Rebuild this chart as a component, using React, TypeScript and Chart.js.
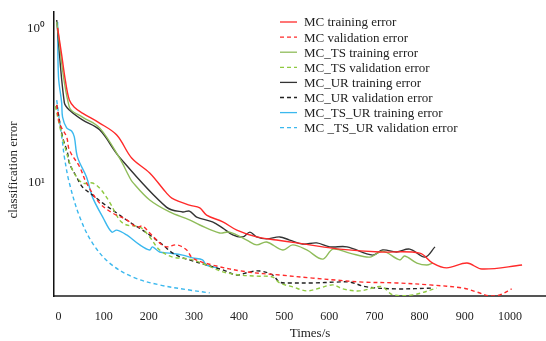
import React, { useEffect, useRef } from "react";
import { Chart, registerables } from "chart.js";

Chart.register(...registerables);

// x ticks (Times/s)
const X_TICKS = [0, 100, 200, 300, 400, 500, 600, 700, 800, 900, 1000];
// y ticks (classification error, relative axis position) and labels
const Y_TICK_VALUES = [0.4, 0.94];
const Y_TICK_LABELS = ["10¹", "10⁰"];

const X_TITLE = "Times/s";
const Y_TITLE = "classification error";

const SERIES_NAMES = [
  "MC training error",
  "MC validation error",
  "MC_TS training error",
  "MC_TS validation error",
  "MC_UR training error",
  "MC_UR validation error",
  "MC_TS_UR training error",
  "MC _TS_UR validation error",
];

// MC training error
const mcTrainX = [-2, 7, 15, 24, 35, 53, 91, 129, 162, 202, 239, 251, 290, 313, 328, 364, 395, 439, 483, 528, 585, 623, 712, 800, 829, 860, 905, 938, 1027];
const mcTrainY = [0.944, 0.849, 0.761, 0.69, 0.665, 0.644, 0.609, 0.567, 0.486, 0.433, 0.363, 0.345, 0.32, 0.31, 0.285, 0.261, 0.232, 0.208, 0.197, 0.187, 0.173, 0.165, 0.155, 0.151, 0.116, 0.099, 0.116, 0.095, 0.109];

// MC validation error
const mcValX = [-4, 2, 18, 24, 47, 62, 91, 120, 151, 173, 186, 202, 224, 239, 262, 284, 297, 341, 417, 490, 563, 616, 674, 749, 823, 896, 927, 956, 978, 1004];
const mcValY = [0.673, 0.609, 0.56, 0.514, 0.454, 0.398, 0.327, 0.292, 0.268, 0.243, 0.246, 0.222, 0.187, 0.173, 0.18, 0.162, 0.134, 0.109, 0.085, 0.074, 0.063, 0.056, 0.049, 0.046, 0.039, 0.028, 0.014, 0.0, 0.004, 0.025];

// MC_TS training error
const tsTrainX = [-4, 24, 53, 91, 135, 157, 164, 202, 246, 290, 313, 357, 379, 417, 439, 461, 497, 519, 550, 585, 608, 645, 690, 718, 756, 767, 794, 816, 829];
const tsTrainY = [0.965, 0.665, 0.63, 0.592, 0.486, 0.419, 0.401, 0.338, 0.296, 0.268, 0.25, 0.222, 0.225, 0.197, 0.18, 0.19, 0.162, 0.18, 0.162, 0.13, 0.165, 0.151, 0.137, 0.158, 0.127, 0.141, 0.116, 0.109, 0.116];

// MC_TS validation error
const tsValX = [-7, 2, 13, 31, 53, 75, 91, 113, 135, 151, 180, 202, 224, 253, 290, 328, 364, 401, 439, 474, 490, 519, 550, 579, 608, 630, 667, 705, 718, 741, 785, 838];
const tsValY = [0.669, 0.602, 0.532, 0.444, 0.398, 0.398, 0.38, 0.331, 0.268, 0.25, 0.243, 0.208, 0.162, 0.137, 0.13, 0.109, 0.085, 0.074, 0.07, 0.067, 0.046, 0.032, 0.018, 0.028, 0.039, 0.025, 0.018, 0.032, 0.032, 0.004, 0.004, 0.028];

// MC_UR training error
const urTrainX = [-4, 13, 24, 53, 91, 135, 239, 275, 290, 306, 341, 364, 386, 408, 424, 439, 461, 490, 512, 541, 572, 601, 639, 696, 718, 749, 778, 812, 834];
const urTrainY = [0.972, 0.68, 0.655, 0.62, 0.585, 0.489, 0.313, 0.296, 0.299, 0.278, 0.261, 0.239, 0.215, 0.208, 0.225, 0.208, 0.201, 0.208, 0.197, 0.183, 0.187, 0.173, 0.173, 0.144, 0.162, 0.155, 0.165, 0.137, 0.173];

// MC_UR validation error
const urValX = [-4, 9, 20, 24, 40, 53, 75, 98, 129, 157, 186, 208, 231, 253, 275, 290, 328, 364, 395, 424, 446, 474, 490, 512, 563, 616, 645, 683, 749, 829];
const urValY = [0.673, 0.56, 0.504, 0.468, 0.419, 0.384, 0.356, 0.327, 0.292, 0.261, 0.232, 0.208, 0.18, 0.151, 0.134, 0.127, 0.109, 0.092, 0.074, 0.085, 0.088, 0.074, 0.049, 0.046, 0.046, 0.049, 0.049, 0.032, 0.025, 0.028];

// MC_TS_UR training error
const tsurTrainX = [-2, 0, 7, 9, 18, 29, 35, 42, 62, 75, 98, 118, 129, 151, 180, 202, 208, 224, 246, 275, 297, 319, 328, 353];
const tsurTrainY = [0.965, 0.771, 0.68, 0.63, 0.592, 0.581, 0.56, 0.489, 0.419, 0.349, 0.278, 0.225, 0.232, 0.215, 0.18, 0.162, 0.173, 0.155, 0.151, 0.144, 0.134, 0.127, 0.109, 0.099];

// MC_TS_UR validation error
const tsurValX = [-4, 2, 9, 13, 24, 47, 75, 113, 164, 224, 290, 335];
const tsurValY = [0.69, 0.62, 0.539, 0.489, 0.398, 0.278, 0.187, 0.116, 0.067, 0.039, 0.021, 0.011];

const SERIES_X = [mcTrainX, mcValX, tsTrainX, tsValX, urTrainX, urValX, tsurTrainX, tsurValX];
const SERIES_Y = [mcTrainY, mcValY, tsTrainY, tsValY, urTrainY, urValY, tsurTrainY, tsurValY];

const COLORS = ["#ff2a2a", "#ff2a2a", "#8fbc5a", "#8fc940", "#333333", "#222222", "#3bb8ee", "#3bb8ee"];
const DASHED = [false, true, false, true, false, true, false, true];

const FONT = "'Liberation Serif', 'Times New Roman', serif";

const legendPlugin = {
  id: "insideLegend",
  afterDraw(chart: any) {
    const ctx = chart.ctx;
    ctx.save();
    ctx.font = `13px ${FONT}`;
    ctx.textBaseline = "middle";
    ctx.textAlign = "left";
    chart.data.datasets.forEach((ds: any, i: number) => {
      const y = 22 + i * 15.1;
      ctx.strokeStyle = ds.borderColor;
      ctx.lineWidth = 1.3;
      ctx.setLineDash(ds.borderDash || []);
      ctx.beginPath();
      ctx.moveTo(280, y);
      ctx.lineTo(297, y);
      ctx.stroke();
      ctx.setLineDash([]);
      ctx.fillStyle = "#222";
      ctx.fillText(ds.label, 304, y + 1);
    });
    // axis titles
    ctx.font = `13px ${FONT}`;
    ctx.fillStyle = "#222";
    ctx.textAlign = "center";
    ctx.textBaseline = "middle";
    ctx.fillText(X_TITLE, 310, 334);
    ctx.translate(14, 170);
    ctx.rotate(-Math.PI / 2);
    ctx.fillText(Y_TITLE, 0, 0);
    ctx.restore();
  },
};

export default function App() {
  const ref = useRef<HTMLCanvasElement | null>(null);
  useEffect(() => {
    document.body.style.margin = "0";
    const datasets = SERIES_NAMES.map((name, i) => ({
      label: name,
      data: SERIES_X[i].map((x, k) => ({ x, y: SERIES_Y[i][k] })),
      borderColor: COLORS[i],
      backgroundColor: COLORS[i],
      borderWidth: 1.4,
      borderDash: DASHED[i] ? [4, 3] : [],
      pointRadius: 0,
      tension: 0.35,
      fill: false,
    }));
    const chart = new Chart(ref.current as HTMLCanvasElement, {
      type: "line",
      data: { datasets },
      plugins: [legendPlugin],
      options: {
        animation: false,
        responsive: false,
        layout: { padding: { top: 12, right: 0, left: 0, bottom: 0 } },
        plugins: { legend: { display: false }, tooltip: { enabled: false } },
        scales: {
          x: {
            type: "linear",
            min: -10,
            max: 1080,
            afterBuildTicks: (s: any) => {
              s.ticks = X_TICKS.map((v) => ({ value: v }));
            },
            afterFit: (s: any) => {
              s.height = 45;
              s.paddingLeft = 0;
              s.paddingRight = 0;
            },
            grid: { display: false, drawTicks: false },
            border: { display: true, color: "#555", width: 2 },
            ticks: {
              color: "#222",
              font: { family: FONT, size: 12 },
              padding: 14,
              maxRotation: 0,
              autoSkip: false,
              callback: (v: any) => String(v),
            },
            title: { display: false },
          },
          y: {
            type: "linear",
            min: 0,
            max: 1,
            afterBuildTicks: (s: any) => {
              s.ticks = Y_TICK_VALUES.map((v) => ({ value: v }));
            },
            afterFit: (s: any) => {
              s.width = 54;
              s.paddingTop = 0;
              s.paddingBottom = 0;
            },
            grid: { display: false, drawTicks: false },
            border: { display: true, color: "#111", width: 1.5 },
            ticks: {
              color: "#222",
              font: { family: FONT, size: 13 },
              padding: 9,
              callback: (v: any) => {
                const idx = Y_TICK_VALUES.indexOf(Number(v));
                return idx >= 0 ? Y_TICK_LABELS[idx] : "";
              },
            },
            title: { display: false },
          },
        },
      },
    });
    return () => chart.destroy();
  }, []);
  return <canvas ref={ref} width={546} height={341} style={{ display: "block" }} />;
}
